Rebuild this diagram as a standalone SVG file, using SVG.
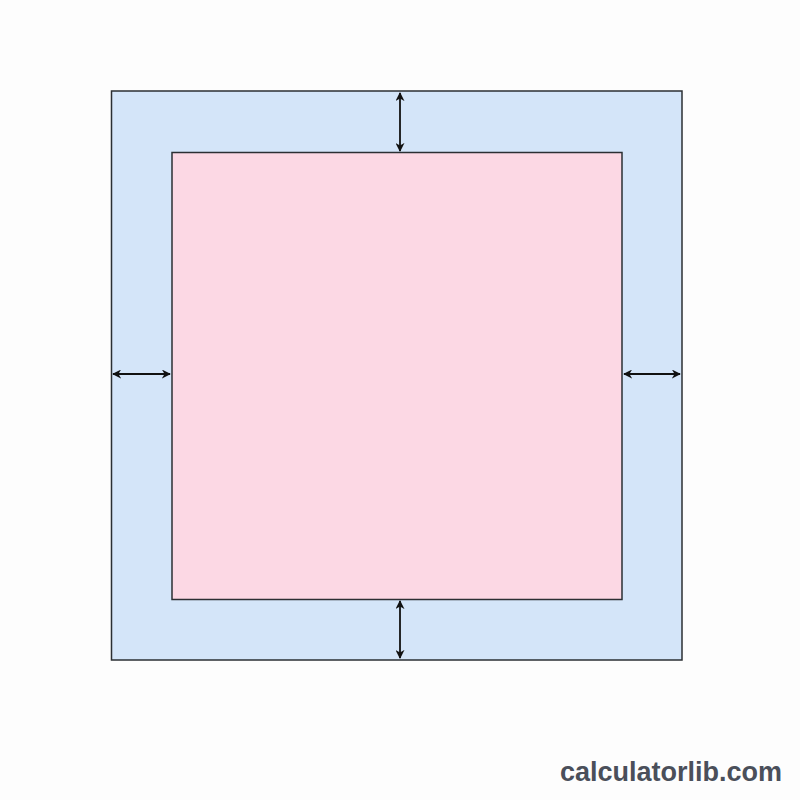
<svg xmlns="http://www.w3.org/2000/svg" width="800" height="800" viewBox="0 0 800 800">
<style>
.frame{stroke:#2b2f33;stroke-width:1.5}
.dim{stroke:#111;stroke-width:1.8;fill:none;marker-start:url(#ah);marker-end:url(#ah)}
.brand{font-family:"Liberation Sans",Arial,sans-serif;font-weight:bold;font-size:27px;fill:#4a4f5a}
</style>
<defs>
<marker id="ah" viewBox="0 0 10 10" refX="9" refY="5" markerWidth="9" markerHeight="9" orient="auto-start-reverse" markerUnits="userSpaceOnUse">
<path d="M0,0 L10,5 L0,10 L3,5 Z" fill="#111"/>
</marker>
</defs>
<rect width="800" height="800" fill="#fdfdfd"/>
<g id="outer"><rect class="frame" x="111.5" y="91" width="570.5" height="569" fill="#d4e5f9"/></g>
<g id="inner"><rect class="frame" x="172" y="152.5" width="450" height="447" fill="#fcd8e4"/></g>
<g id="connectors">
<line class="dim" x1="400" y1="93" x2="400" y2="151"/>
<line class="dim" x1="400" y1="601" x2="400" y2="658"/>
<line class="dim" x1="113" y1="374" x2="170" y2="374"/>
<line class="dim" x1="624" y1="374" x2="680" y2="374"/>
</g>
<text class="brand" x="782" y="781" text-anchor="end">calculatorlib.com</text>
</svg>
